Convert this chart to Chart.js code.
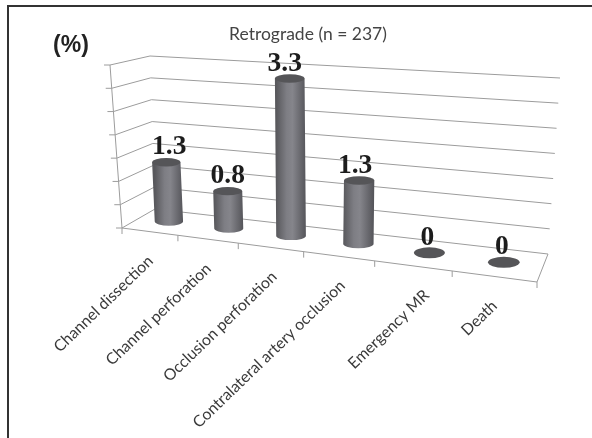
<!DOCTYPE html>
<html>
<head>
<meta charset="utf-8">
<script src="https://cdn.jsdelivr.net/npm/chart.js@4"></script>
<style>
  html, body { margin: 0; padding: 0; background: #fff; overflow: hidden; }
  #frame { position: absolute; left: 7px; top: 5px; width: 585px; height: 433px; border-top: 2px solid #333; border-left: 2px solid #333; box-sizing: border-box; }
  canvas { position: absolute; left: 0; top: 0; }
</style>
</head>
<body>
<div id="frame"></div>
<canvas id="chart" width="592" height="438"></canvas>
<script>
const categories = ["Channel dissection", "Channel perforation", "Occlusion perforation", "Contralateral artery occlusion", "Emergency MR", "Death"];
const percentValues = [1.3, 0.8, 3.3, 1.3, 0, 0];
const valueLabels = ["1.3", "0.8", "3.3", "1.3", "0", "0"];
const yTickStep = 0.5;
const yMax = 3.5;

// corners of the 3d box on the page, [front left, front right, back right, back left]
const floorCorners = [[122, 228], [537, 282], [548, 254], [155, 209]];
const roofCorners = [[110, 65], [551, 92], [560, 78], [150, 56]];
const barDepth = 0.5;
// hand tuned pixel shifts, the original's perspective isn't quite a clean projection
const barShift = [3, 6, 7, 8, 7, 3];
const valueShift = [3, 0, -5, -4, -2, -2];
const tickLabelShift = [1, 1, 4, 4, 14, 1];

// homography from the unit square to 4 corners
const makeHomography = c => {
  const [[x0, y0], [x1, y1], [x2, y2], [x3, y3]] = c;
  const dx1 = x1 - x2, dx2 = x3 - x2, sx = x0 - x1 + x2 - x3;
  const dy1 = y1 - y2, dy2 = y3 - y2, sy = y0 - y1 + y2 - y3;
  const det = dx1 * dy2 - dx2 * dy1;
  const g = (sx * dy2 - dx2 * sy) / det;
  const h = (dx1 * sy - sx * dy1) / det;
  const a = x1 - x0 + g * x1, b = x3 - x0 + h * x3;
  const d = y1 - y0 + g * y1, e = y3 - y0 + h * y3;
  return (u, w) => {
    const z = g * u + h * w + 1;
    return [(a * u + b * w + x0) / z, (d * u + e * w + y0) / z];
  };
};
const floorAt = makeHomography(floorCorners);
const roofAt = makeHomography(roofCorners);

// u along the categories, v up the value axis, w into the page
const project = (u, v, w) => {
  const f = floorAt(u, w);
  const r = roofAt(u, w);
  return [f[0] + (r[0] - f[0]) * v, f[1] + (r[1] - f[1]) * v];
};

const segment = (ctx, a, b) => {
  ctx.beginPath();
  ctx.moveTo(a[0], a[1]);
  ctx.lineTo(b[0], b[1]);
  ctx.stroke();
};

const fracX = (chart, x) => (x - chart.scales.x.left) / chart.scales.x.width;
const fracY = (chart, y) => (chart.scales.y.bottom - y) / chart.scales.y.height;

class CylinderController extends Chart.BarController {
  draw() {
    const chart = this.chart;
    const ctx = chart.ctx;
    this.getMeta().data.forEach((bar, i) => {
      const u = fracX(chart, bar.x);
      const v = fracY(chart, bar.y);
      const low = project(u, 0, barDepth);
      const high = project(u, v, barDepth);
      low[0] += barShift[i];
      high[0] += barShift[i];
      const rx = 14 + 2 * u;
      const ry = v === 0 ? 5.5 : 4.2;
      ctx.save();
      if (v > 0) {
        const grad = ctx.createLinearGradient(low[0] - rx, 0, low[0] + rx, 0);
        grad.addColorStop(0, "#58585c");
        grad.addColorStop(0.35, "#7e7e84");
        grad.addColorStop(0.55, "#85858b");
        grad.addColorStop(1, "#55555a");
        ctx.fillStyle = grad;
        ctx.beginPath();
        ctx.ellipse(low[0], low[1], rx, ry, 0, 0, Math.PI);
        ctx.lineTo(high[0] - rx, high[1]);
        ctx.lineTo(high[0] + rx, high[1]);
        ctx.closePath();
        ctx.fill();
      }
      ctx.fillStyle = "#555558";
      ctx.beginPath();
      ctx.ellipse(high[0], high[1], rx, ry, 0, 0, Math.PI * 2);
      ctx.fill();
      ctx.restore();
    });
  }
}
CylinderController.id = "cylinder";
CylinderController.defaults = Chart.BarController.defaults;
CylinderController.overrides = Chart.BarController.overrides;
Chart.register(CylinderController);

const boxPlugin = {
  id: "box",
  beforeDatasetsDraw(chart) {
    const ctx = chart.ctx;
    const yScale = chart.scales.y;
    const xScale = chart.scales.x;
    ctx.save();
    ctx.strokeStyle = "#9c9c9c";
    ctx.lineWidth = 1;
    yScale.ticks.forEach(t => {
      const v = fracY(chart, yScale.getPixelForValue(t.value));
      const front = project(0, v, 0);
      const corner = project(0, v, 1);
      const end = project(1, v, 1);
      segment(ctx, [front[0] - 6, front[1]], front);
      segment(ctx, front, corner);
      segment(ctx, corner, end);
    });
    // left upright and the floor edges
    segment(ctx, project(0, 1, 0), project(0, 0, 0));
    segment(ctx, project(0, 0, 0), project(1, 0, 0));
    segment(ctx, project(1, 0, 0), project(1, 0, 1));
    const bottomLeft = project(0, 0, 0);
    segment(ctx, bottomLeft, [bottomLeft[0], bottomLeft[1] + 6]);
    categories.forEach((c, i) => {
      const p = project((i + 1) / categories.length, 0, 0);
      segment(ctx, p, [p[0], p[1] + 6]);
    });
    ctx.restore();

    // category labels
    ctx.save();
    ctx.fillStyle = "#3a3a3a";
    ctx.font = "15.8px Lato";
    ctx.textAlign = "right";
    ctx.textBaseline = "middle";
    xScale.ticks.forEach((t, i) => {
      const p = project(fracX(chart, xScale.getPixelForTick(i)), 0, 0);
      ctx.save();
      ctx.translate(p[0] + tickLabelShift[i], p[1] + 27);
      ctx.rotate(-44 * Math.PI / 180);
      ctx.fillText(xScale.getLabelForValue(t.value), 0, 0);
      ctx.restore();
    });
    ctx.restore();

    // y axis unit
    ctx.save();
    ctx.fillStyle = "#222";
    ctx.font = "bold 23px 'Liberation Sans'";
    ctx.textAlign = "center";
    ctx.textBaseline = "middle";
    ctx.fillText("(%)", 71, 46);
    ctx.restore();
  },
  afterDatasetsDraw(chart) {
    const ctx = chart.ctx;
    ctx.save();
    ctx.fillStyle = "#1c1c1c";
    ctx.font = "bold 27.5px 'Liberation Serif'";
    ctx.textAlign = "center";
    ctx.textBaseline = "middle";
    chart.getDatasetMeta(0).data.forEach((bar, i) => {
      const p = project(fracX(chart, bar.x), fracY(chart, bar.y), barDepth);
      ctx.fillText(valueLabels[i], p[0] + barShift[i] + valueShift[i], p[1] - 15);
    });
    ctx.restore();
  }
};

new Chart(document.getElementById("chart"), {
  type: "cylinder",
  data: {
    labels: categories,
    datasets: [{ label: "Retrograde", data: percentValues }]
  },
  options: {
    responsive: false,
    animation: false,
    layout: { padding: { left: 24 } },
    scales: {
      x: { type: "category", display: false, ticks: { autoSkip: false } },
      y: { type: "linear", display: false, min: 0, max: yMax, ticks: { stepSize: yTickStep } }
    },
    plugins: {
      legend: { display: false },
      tooltip: { enabled: false },
      title: {
        display: true,
        text: "Retrograde (n = 237)",
        color: "#444",
        font: { family: "Lato", size: 17.5, weight: "normal" },
        padding: { top: 24, bottom: 10 }
      }
    }
  },
  plugins: [boxPlugin]
});
</script>
</body>
</html>
